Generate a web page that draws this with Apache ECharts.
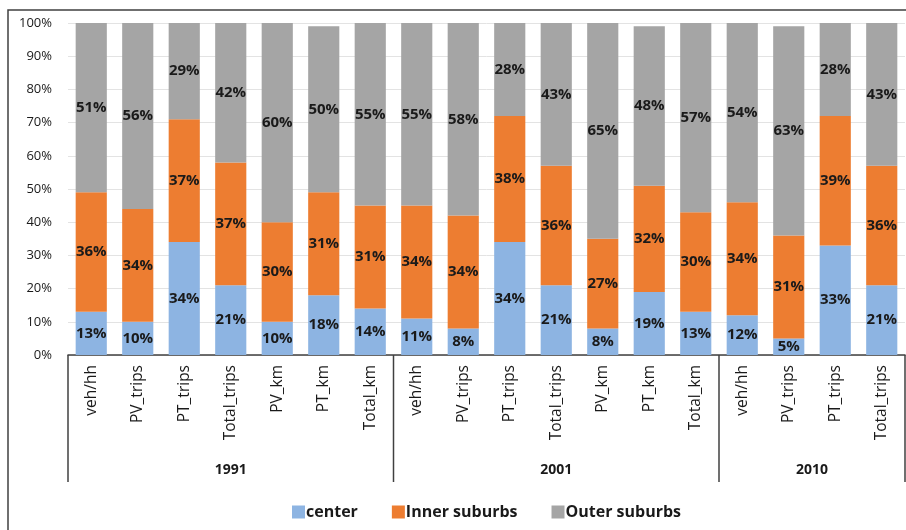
<!DOCTYPE html>
<html>
<head>
<meta charset="utf-8">
<script src="https://cdn.jsdelivr.net/npm/echarts@6/dist/echarts.min.js"></script>
<style>
  html, body { margin: 0; padding: 0; background: #fff; }
  #chart { width: 906px; height: 530px; }
</style>
</head>
<body>
<div id="chart"></div>
<script>
// Share of households / trips / km by zone, grouped by survey year
const categories = [
  'veh/hh', 'PV_trips', 'PT_trips', 'Total_trips', 'PV_km', 'PT_km', 'Total_km',
  'veh/hh', 'PV_trips', 'PT_trips', 'Total_trips', 'PV_km', 'PT_km', 'Total_km',
  'veh/hh', 'PV_trips', 'PT_trips', 'Total_trips'
];
const years = ['1991', '2001', '2010'];
const groupSizes = [7, 7, 4];

const center = [13, 10, 34, 21, 10, 18, 14, 11, 8, 34, 21, 8, 19, 13, 12, 5, 33, 21];
const inner  = [36, 34, 37, 37, 30, 31, 31, 34, 34, 38, 36, 27, 32, 30, 34, 31, 39, 36];
const outer  = [51, 56, 29, 42, 60, 50, 55, 55, 58, 28, 43, 65, 48, 57, 54, 63, 28, 43];

const yTicks = [0, 10, 20, 30, 40, 50, 60, 70, 80, 90, 100];

const FONT = '"Open Sans", "Noto Sans", sans-serif';
const GRID = { left: 68, right: 1, top: 23, bottom: 175 };

const chart = echarts.init(document.getElementById('chart'), null, { renderer: 'canvas' });

function barSeries(name, data, color) {
  return {
    name: name,
    type: 'bar',
    stack: 'share',
    data: data,
    barCategoryGap: '33%',
    itemStyle: { color: color },
    label: {
      show: true,
      position: 'inside',
      formatter: '{c}%',
      color: '#1a1a1a',
      fontFamily: FONT,
      fontWeight: 'bold',
      fontSize: 15
    },
    emphasis: { disabled: true }
  };
}

chart.setOption({
  animation: false,
  grid: GRID,
  legend: {
    top: 499,
    left: 287,
    itemWidth: 13,
    itemHeight: 13,
    itemGap: 34,
    icon: 'rect',
    textStyle: { fontFamily: FONT, fontWeight: 'bold', fontSize: 16, color: '#1a1a1a', padding: [0, 0, 0, -4] },
    data: ['center', 'Inner suburbs', 'Outer suburbs']
  },
  xAxis: {
    type: 'category',
    data: categories,
    axisLine: { lineStyle: { color: '#404040', width: 1.5 } },
    axisTick: { show: false },
    axisLabel: {
      rotate: 90,
      interval: 0,
      margin: 10,
      fontFamily: FONT,
      fontSize: 15.5,
      color: '#1a1a1a'
    }
  },
  yAxis: {
    type: 'value',
    min: 0,
    max: 100,
    interval: 10,
    axisLine: { show: false },
    axisTick: { show: false },
    splitLine: { lineStyle: { color: '#e3e3e3', width: 1 } },
    axisLabel: {
      formatter: v => (yTicks.includes(v) ? v + '%' : ''),
      margin: 16,
      fontFamily: FONT,
      fontSize: 13,
      color: '#1a1a1a'
    }
  },
  series: [
    barSeries('center', center, '#8db4e2'),
    barSeries('Inner suburbs', inner, '#ed7d31'),
    barSeries('Outer suburbs', outer, '#a5a5a5')
  ]
});

// Year grouping under the category axis: separators and year captions
function drawGroups() {
  const p0 = chart.convertToPixel({ xAxisIndex: 0 }, 0);
  const p1 = chart.convertToPixel({ xAxisIndex: 0 }, 1);
  const band = p1 - p0;
  const axisY = chart.convertToPixel({ yAxisIndex: 0 }, 0);
  const lineBottom = axisY + 127;
  const elements = [];
  // outer chart frame
  elements.push({
    type: 'rect',
    shape: { x: 8, y: 10, width: 920, height: 540 },
    style: { fill: null, stroke: '#404040', lineWidth: 1.5 },
    silent: true
  });
  let start = 0;
  const boundaries = [p0 - band / 2];
  groupSizes.forEach((n, i) => {
    const left = p0 + (start - 0.5) * band;
    const right = p0 + (start + n - 0.5) * band;
    boundaries.push(right);
    elements.push({
      type: 'text',
      style: {
        text: years[i],
        x: (left + right) / 2,
        y: axisY + 115,
        align: 'center',
        verticalAlign: 'middle',
        font: 'bold 14px ' + FONT,
        fill: '#1a1a1a'
      },
      silent: true
    });
    start += n;
  });
  boundaries.forEach(x => {
    elements.push({
      type: 'line',
      shape: { x1: x, y1: axisY, x2: x, y2: lineBottom },
      style: { stroke: '#404040', lineWidth: 1.5 },
      silent: true
    });
  });
  chart.setOption({ graphic: { elements: elements } });
}
drawGroups();
</script>
</body>
</html>
